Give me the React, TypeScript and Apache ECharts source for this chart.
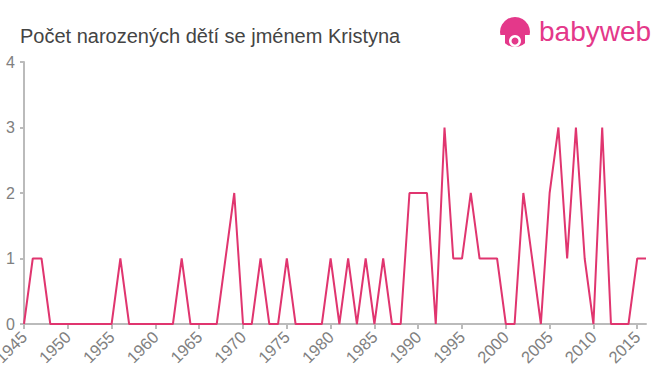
import React, { useEffect, useRef } from "react";
import * as echarts from "echarts";

const years: number[] = [];
for (let y = 1945; y <= 2016; y++) years.push(y);

const counts = [
  0, 1, 1, 0, 0, 0, 0, 0, 0, 0, // 1945-1954
  0, 1, 0, 0, 0, 0, 0, 0, 1, 0, // 1955-1964
  0, 0, 0, 1, 2, 0, 0, 1, 0, 0, // 1965-1974
  1, 0, 0, 0, 0, 1, 0, 1, 0, 1, // 1975-1984
  0, 1, 0, 0, 2, 2, 2, 0, 3, 1, // 1985-1994
  1, 2, 1, 1, 1, 0, 0, 2, 1, 0, // 1995-2004
  2, 3, 1, 3, 1, 0, 3, 0, 0, 0, // 2005-2014
  1, 1, // 2015-2016
];

const titleText = "Počet narozených dětí se jménem Kristyna";
const brandText = "babyweb";

export default function App() {
  const ref = useRef<HTMLDivElement>(null);
  useEffect(() => {
    if (!ref.current) return;
    const chart = echarts.init(ref.current, null, { renderer: "svg" });
    const pink = "#e0356f";
    const font = "'Liberation Sans', Arial, sans-serif";
    chart.setOption({
      animation: false,
      backgroundColor: "#fff",
      title: {
        text: titleText,
        left: 15,
        top: 21,
        textStyle: { fontFamily: font, fontSize: 20, fontWeight: "normal", color: "#444" },
      },
      graphic: [
        {
          type: "group",
          left: 500,
          top: 17,
          children: [
            { type: "circle", shape: { cx: 15, cy: 15, r: 15 }, style: { fill: "#e4388a" } },
            { type: "circle", shape: { cx: 15, cy: 24, r: 6 }, style: { fill: "#fff" } },
            { type: "circle", shape: { cx: 15, cy: 24, r: 3.5 }, style: { fill: "#e4388a" } },
            { type: "rect", shape: { x: 0, y: 18, width: 5, height: 14 }, style: { fill: "#fff" } },
            { type: "rect", shape: { x: 25, y: 18, width: 5, height: 14 }, style: { fill: "#fff" } },
            {
              type: "text",
              left: 39,
              top: 0,
              style: { text: brandText, fontFamily: font, fontSize: 28, fill: "#e4388a" },
            },
          ],
        },
      ],
      grid: { left: 24, right: 14, top: 62, bottom: 51, containLabel: false, outerBoundsMode: "none" },
      xAxis: {
        type: "value",
        min: 1945,
        max: 2016,
        interval: 5,
        axisLine: { lineStyle: { color: "#bbb", width: 2 } },
        axisTick: { show: true, length: 5, lineStyle: { color: "#bbb", width: 2 } },
        axisLabel: {
          show: true,
          rotate: 45,
          color: "#808080",
          fontSize: 16.5,
          fontFamily: font,
          margin: 10,
          hideOverlap: false,
          formatter: (v: number) => String(v),
        },
        splitLine: { show: false },
      },
      yAxis: {
        type: "value",
        min: 0,
        max: 4,
        interval: 1,
        axisLine: { show: true, lineStyle: { color: "#bbb", width: 2 } },
        axisTick: { show: true, length: 4, lineStyle: { color: "#bbb", width: 2 } },
        axisLabel: {
          color: "#808080",
          fontSize: 16,
          fontFamily: font,
          margin: 9,
        },
        splitLine: { show: false },
      },
      series: [
        {
          type: "line",
          data: years.map((y, i) => [y, counts[i]]),
          showSymbol: false,
          lineStyle: { color: pink, width: 2 },
          itemStyle: { color: pink },
        },
      ],
    });
    return () => chart.dispose();
  }, []);
  return <div ref={ref} style={{ width: 660, height: 375, position: "absolute", left: 0, top: 0 }} />;
}
